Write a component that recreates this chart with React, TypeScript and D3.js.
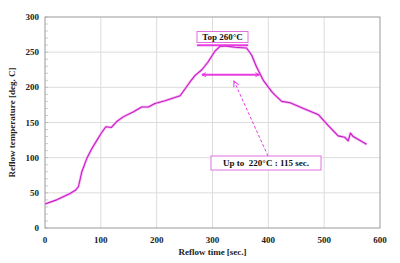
import React, { useRef, useEffect } from 'react';
import * as d3 from 'd3';

// reflow profile: time [sec.] and temperature [deg. C]
const times = [0, 21, 45, 55, 60, 66, 75, 84, 94, 101, 109, 119, 128, 140, 158, 173, 185, 197, 215, 242, 260, 269, 281, 292, 304, 313, 322, 340, 361, 370, 379, 391, 406, 412, 424, 439, 463, 490, 507, 525, 537, 543, 547, 552, 576];
const temps = [34, 40, 49, 54, 59, 80, 99, 113, 126, 135, 144, 143, 151, 158, 165, 172, 172, 177, 181, 188, 208, 217, 225, 236, 251, 258, 259, 257, 256, 246, 229, 210, 194, 189, 180, 178, 170, 161, 146, 131, 129, 124, 135, 130, 119];

const xTicks = [0, 100, 200, 300, 400, 500, 600];
const yTicks = [0, 50, 100, 150, 200, 250, 300];

// annotation values
const topLevel = 260;
const topSpan = [272, 364];
const reflowLevel = 218;
const reflowSpan = [281, 384];

const App = () => {
  const svgRef = useRef<SVGSVGElement>(null);

  useEffect(() => {
    const width = 400;
    const height = 263;
    const margin = { top: 17, right: 20, bottom: 35, left: 45 };
    const font = '"Liberation Serif", "Times New Roman", serif';
    const pink = '#e83ce0';

    const svg = d3.select(svgRef.current)
      .attr('width', width)
      .attr('height', height)
      .style('display', 'block')
      .style('position', 'absolute')
      .style('left', '0px')
      .style('top', '0px');
    svg.selectAll('*').remove();

    const x = d3.scaleLinear().domain([0, 600]).range([margin.left, width - margin.right]);
    const y = d3.scaleLinear().domain([0, 300]).range([height - margin.bottom, margin.top]);

    svg.append('rect').attr('width', width).attr('height', height).attr('fill', '#fff');

    // grid
    svg.append('g').selectAll('line').data(xTicks.slice(1, -1)).join('line')
      .attr('x1', d => x(d)).attr('x2', d => x(d))
      .attr('y1', y(0)).attr('y2', y(300))
      .attr('stroke', '#dcdcdc').attr('stroke-width', 1);
    svg.append('g').selectAll('line').data(yTicks.slice(1, -1)).join('line')
      .attr('x1', x(0)).attr('x2', x(600))
      .attr('y1', d => y(d)).attr('y2', d => y(d))
      .attr('stroke', '#dcdcdc').attr('stroke-width', 1);

    // frame
    svg.append('rect')
      .attr('x', x(0)).attr('y', y(300))
      .attr('width', x(600) - x(0)).attr('height', y(0) - y(300))
      .attr('fill', 'none').attr('stroke', '#9a9a9a').attr('stroke-width', 1);

    // minor ticks on left axis
    svg.append('g').selectAll('line').data(d3.range(0, 301, 10)).join('line')
      .attr('x1', x(0)).attr('x2', x(0) + 3)
      .attr('y1', d => y(d)).attr('y2', d => y(d))
      .attr('stroke', '#aaa').attr('stroke-width', 0.6);

    // tick labels
    svg.append('g').selectAll('text').data(xTicks).join('text')
      .attr('x', d => x(d)).attr('y', y(0) + 15)
      .attr('text-anchor', 'middle')
      .attr('font-family', font).attr('font-weight', 'bold').attr('font-size', 9)
      .attr('fill', '#222')
      .text(d => d);
    svg.append('g').selectAll('text').data(yTicks).join('text')
      .attr('x', x(0) - 6).attr('y', d => y(d) + 3)
      .attr('text-anchor', 'end')
      .attr('font-family', font).attr('font-weight', 'bold').attr('font-size', 9)
      .attr('fill', '#222')
      .text(d => d);

    // axis titles
    svg.append('text')
      .attr('x', (x(0) + x(600)) / 2).attr('y', y(0) + 27)
      .attr('text-anchor', 'middle')
      .attr('font-family', font).attr('font-weight', 'bold').attr('font-size', 9)
      .attr('fill', '#222')
      .text('Reflow time [sec.]');
    svg.append('text')
      .attr('transform', `translate(15, ${(y(0) + y(300)) / 2}) rotate(-90)`)
      .attr('text-anchor', 'middle')
      .attr('font-family', font).attr('font-weight', 'bold').attr('font-size', 9)
      .attr('fill', '#222')
      .text('Reflow temperature [deg. C]');

    // profile line
    const line = d3.line<number>()
      .x((d, i) => x(times[i]))
      .y(d => y(d));
    svg.append('path').datum(temps)
      .attr('fill', 'none').attr('stroke', '#f7b4f2').attr('stroke-width', 2.6)
      .attr('stroke-linejoin', 'round')
      .attr('d', line);
    svg.append('path').datum(temps)
      .attr('fill', 'none').attr('stroke', '#c61cc6').attr('stroke-width', 1.1)
      .attr('stroke-linejoin', 'round')
      .attr('d', line);

    // markers
    const defs = svg.append('defs');
    defs.append('marker')
      .attr('id', 'head').attr('viewBox', '0 0 10 10')
      .attr('refX', 9).attr('refY', 5)
      .attr('markerWidth', 5).attr('markerHeight', 5)
      .attr('markerUnits', 'userSpaceOnUse')
      .attr('orient', 'auto-start-reverse')
      .append('path').attr('d', 'M1,1 L9,5 L1,9').attr('fill', 'none')
      .attr('stroke', pink).attr('stroke-width', 2);
    defs.append('marker')
      .attr('id', 'head2').attr('viewBox', '0 0 10 10')
      .attr('refX', 9).attr('refY', 5)
      .attr('markerWidth', 7).attr('markerHeight', 7)
      .attr('markerUnits', 'userSpaceOnUse')
      .attr('orient', 'auto')
      .append('path').attr('d', 'M1,1 L9,5 L1,9').attr('fill', 'none')
      .attr('stroke', pink).attr('stroke-width', 1.5);

    // top 260 line
    svg.append('line')
      .attr('x1', x(topSpan[0])).attr('x2', x(topSpan[1]))
      .attr('y1', y(topLevel)).attr('y2', y(topLevel))
      .attr('stroke', pink).attr('stroke-width', 2);

    // top box
    const topBox = { x: 197, y: 31.5, w: 51, h: 11 };
    svg.append('rect')
      .attr('x', topBox.x).attr('y', topBox.y).attr('width', topBox.w).attr('height', topBox.h)
      .attr('fill', '#fff').attr('stroke', '#e070e0').attr('stroke-width', 1);
    svg.append('text')
      .attr('x', topBox.x + topBox.w / 2).attr('y', topBox.y + 8.5)
      .attr('text-anchor', 'middle')
      .attr('font-family', font).attr('font-weight', 'bold').attr('font-size', 9)
      .attr('fill', '#111')
      .text('Top 260°C');

    // 220 double arrow
    svg.append('line')
      .attr('x1', x(reflowSpan[0])).attr('x2', x(reflowSpan[1]))
      .attr('y1', y(reflowLevel)).attr('y2', y(reflowLevel))
      .attr('stroke', pink).attr('stroke-width', 2)
      .attr('marker-start', 'url(#head)').attr('marker-end', 'url(#head)');

    // dashed pointer
    svg.append('line')
      .attr('x1', 268).attr('y1', 156)
      .attr('x2', 234).attr('y2', 81)
      .attr('stroke', pink).attr('stroke-width', 1)
      .attr('stroke-dasharray', '3,2')
      .attr('marker-end', 'url(#head2)');

    // bottom box
    const box = { x: 211, y: 156, w: 110, h: 14 };
    svg.append('rect')
      .attr('x', box.x).attr('y', box.y).attr('width', box.w).attr('height', box.h)
      .attr('fill', '#fff').attr('stroke', '#e070e0').attr('stroke-width', 1);
    svg.append('text')
      .attr('x', box.x + box.w / 2).attr('y', box.y + 10)
      .attr('text-anchor', 'middle')
      .attr('font-family', font).attr('font-weight', 'bold').attr('font-size', 9)
      .attr('fill', '#111')
      .attr('xml:space', 'preserve')
      .style('white-space', 'pre')
      .text('Up to  220°C : 115 sec.');
  }, []);

  return <svg ref={svgRef}></svg>;
};

export default App;
